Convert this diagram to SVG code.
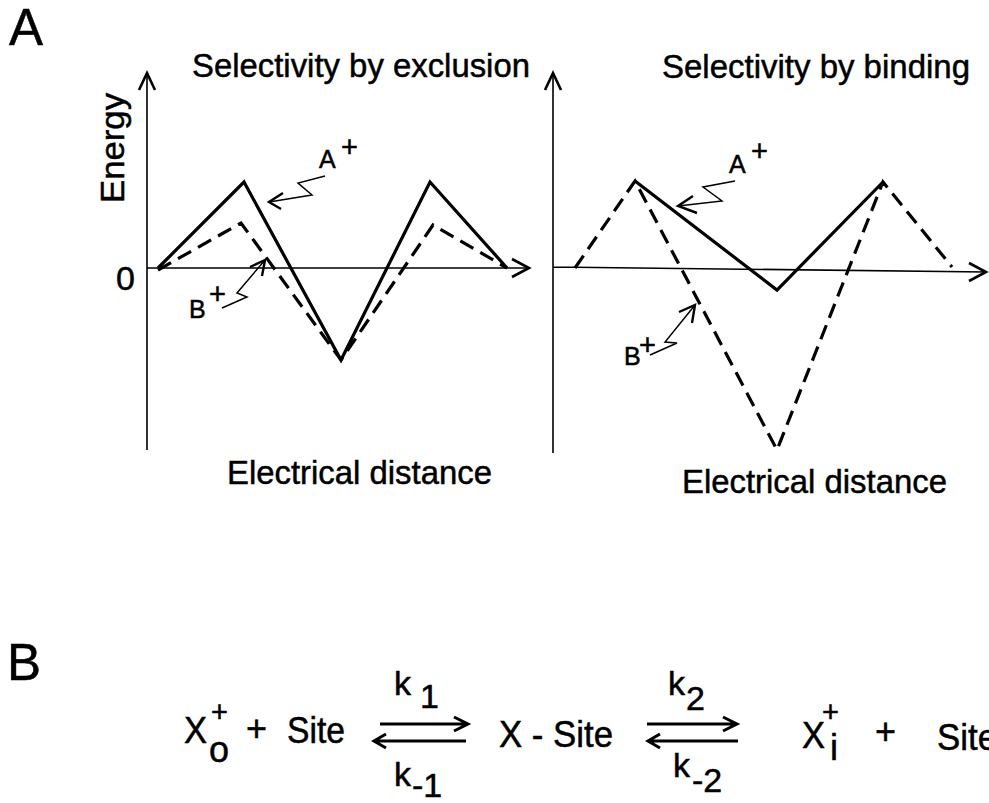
<svg xmlns="http://www.w3.org/2000/svg" width="989" height="803" viewBox="0 0 989 803">
<style>
text{font-family:"Liberation Sans",Arial,Helvetica,sans-serif;fill:#000;stroke:#000;stroke-width:0.5}
.lab{font-size:34px}
.eqt{font-size:36px}
.big{font-size:51px}
.sm{font-size:25px}
.sup{font-size:29px}
.ax{fill:none;stroke:#000;stroke-width:1.6}
.ah{fill:none;stroke:#000;stroke-width:2.6;stroke-linejoin:miter}
.sol{fill:none;stroke:#000;stroke-width:3.2;stroke-linejoin:miter}
.dash{fill:none;stroke:#000;stroke-width:3.2;stroke-dasharray:15 8}
.bolt{fill:none;stroke:#000;stroke-width:1.5}
.bh{fill:none;stroke:#000;stroke-width:2.4}
.eq{fill:none;stroke:#000;stroke-width:3}
</style>
<g id="panel-labels">
<text class="big" x="9" y="45">A</text>
<text class="big" x="7" y="680">B</text>
</g>
<g id="left-plot">
<text class="lab" x="192" y="77" textLength="338" lengthAdjust="spacingAndGlyphs">Selectivity by exclusion</text>
<text class="lab" transform="translate(124,148) rotate(-90)" text-anchor="middle" textLength="110" lengthAdjust="spacingAndGlyphs">Energy</text>
<text class="lab" x="116" y="290">0</text>
<text class="lab" x="227" y="484" textLength="265" lengthAdjust="spacingAndGlyphs">Electrical distance</text>
<path class="ax" d="M147,450 V73 M147,268 H529"/>
<path class="ah" d="M139,90 L147,73 L155,90 M512,259 L529,268 L512,277"/>
<path class="sol" d="M158,268 L244,182 L341,360 L430,182 L507,268"/>
<path class="dash" d="M158,270 L241,223 L341,360 L433,225 L507,268"/>
<text class="sm" x="319" y="168">A</text>
<text class="sup" x="341" y="157">+</text>
<path class="bolt" d="M325,176 L298,183 L312,195 L269,202"/>
<path class="bh" d="M283,193 L269,202 L281,209"/>
<text class="sm" x="189" y="318">B</text>
<text class="sup" x="209" y="304">+</text>
<path class="bolt" d="M222,308 L247,297 L237,293 L265,260"/>
<path class="bh" d="M250,267 L265,260 L262,276"/>
</g>
<g id="right-plot">
<text class="lab" x="662" y="78" textLength="308" lengthAdjust="spacingAndGlyphs">Selectivity by binding</text>
<text class="lab" x="682" y="493" textLength="265" lengthAdjust="spacingAndGlyphs">Electrical distance</text>
<path class="ax" d="M553,453 V73 M553,267 L986,272"/>
<path class="ah" d="M545,90 L553,73 L561,90 M969,263 L986,272 L969,281"/>
<path class="dash" d="M575,268 L635,181 L777,450 L883,182 L952,267"/>
<path class="sol" d="M635,181 L777,290 L883,182"/>
<text class="sm" x="729" y="173">A</text>
<text class="sup" x="751" y="161">+</text>
<path class="bolt" d="M735,181 L703,187 L722,201 L678,206"/>
<path class="bh" d="M693,196 L678,206 L697,213"/>
<text class="sm" x="624" y="365">B</text>
<text class="sup" x="639" y="355">+</text>
<path class="bolt" d="M650,355 L677,343 L665,342 L695,305"/>
<path class="bh" d="M679,312 L695,305 L692,323"/>
</g>
<g id="reaction">
<text class="eqt" x="184" y="743" textLength="23" lengthAdjust="spacingAndGlyphs">X</text>
<text class="sup" x="211" y="722">+</text>
<text class="eqt" x="209" y="762">o</text>
<text class="eqt" x="246" y="741">+</text>
<text class="eqt" x="287" y="743" textLength="58" lengthAdjust="spacingAndGlyphs">Site</text>
<text class="lab" x="394" y="695">k</text>
<text class="lab" x="420" y="708">1</text>
<text class="lab" x="394" y="786">k</text>
<text class="lab" x="412" y="797">-1</text>
<text class="eqt" x="499" y="747" textLength="114" lengthAdjust="spacingAndGlyphs">X - Site</text>
<text class="lab" x="668" y="695">k</text>
<text class="lab" x="686" y="710">2</text>
<text class="lab" x="673" y="777">k</text>
<text class="lab" x="692" y="792">-2</text>
<text class="eqt" x="802" y="748" textLength="23" lengthAdjust="spacingAndGlyphs">X</text>
<text class="sup" x="822" y="722">+</text>
<text class="eqt" x="830" y="760">i</text>
<text class="eqt" x="875" y="744">+</text>
<text class="eqt" x="937" y="750" textLength="60" lengthAdjust="spacingAndGlyphs">Site</text>
</g>
<g id="connectors">
<path class="eq" d="M380,724 H468 M454,717 L468,724 L454,731"/>
<path class="eq" d="M374,741 H466 M386,734 L374,741 L386,748"/>
<path class="eq" d="M647,724 H737 M723,717 L737,724 L723,731"/>
<path class="eq" d="M648,741 H738 M660,734 L648,741 L660,748"/>
</g>
</svg>
